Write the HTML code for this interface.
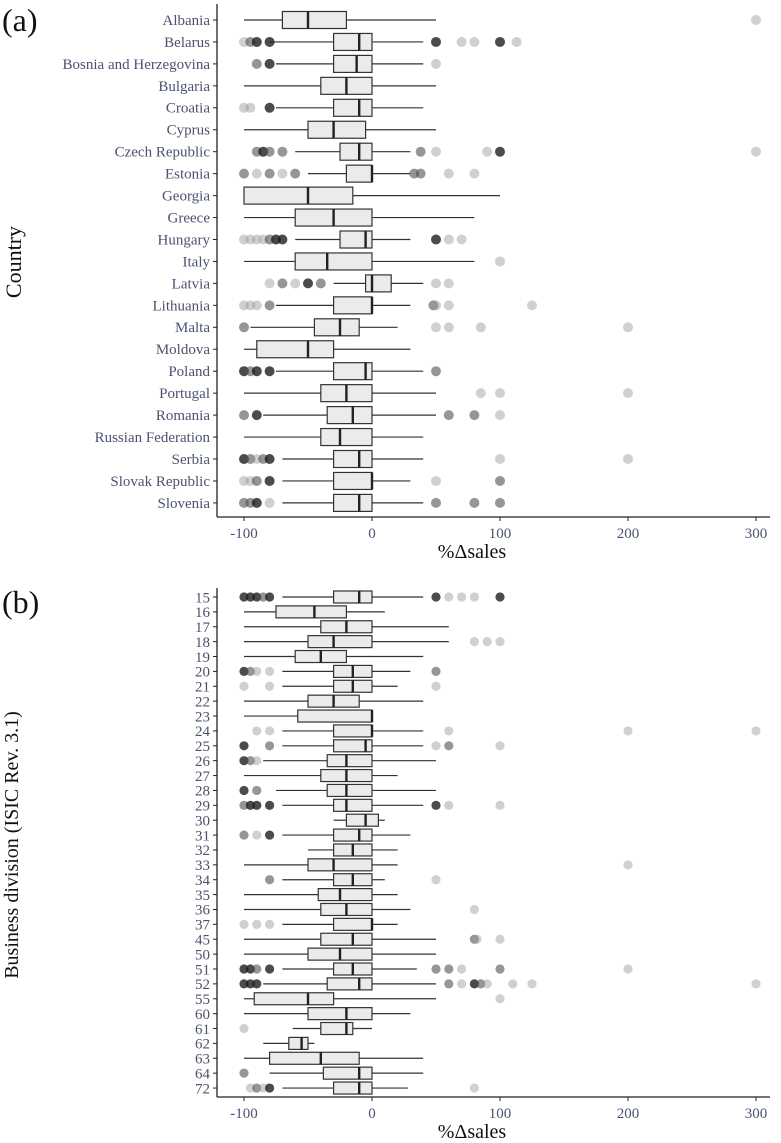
<!DOCTYPE html>
<html><head><meta charset="utf-8"><style>
html,body{margin:0;padding:0;background:#fff;}
svg{display:block;font-family:"Liberation Serif",serif;}
.lbl{fill:#4b5270;font-size:15px;}
</style></head><body>
<svg id="chart" width="781" height="1143" viewBox="0 0 781 1143">
<text x="2" y="31" font-size="32" fill="#111">(a)</text>
<text x="2" y="613" font-size="32" fill="#111">(b)</text>
<text transform="translate(21,262) rotate(-90)" text-anchor="middle" font-size="22" fill="#111">Country</text>
<text transform="translate(18,845) rotate(-90)" text-anchor="middle" font-size="20" fill="#111">Business division (ISIC Rev. 3.1)</text>
<g id="pa"></g>
<g id="pb"></g>
</svg>
<script>
const ticks=[-100,0,100,200,300];
const tickLabels=["-100","0","100","200","300"];
const aNames=["Albania","Belarus","Bosnia and Herzegovina","Bulgaria","Croatia","Cyprus","Czech Republic","Estonia","Georgia","Greece","Hungary","Italy","Latvia","Lithuania","Malta","Moldova","Poland","Portugal","Romania","Russian Federation","Serbia","Slovak Republic","Slovenia"];
const aLo=[-100,-80,-75,-100,-75,-100,-60,-50,-100,-100,-60,-100,-30,-75,-95,-100,-75,-100,-85,-100,-70,-70,-70];
const aQ1=[-70,-30,-30,-40,-30,-50,-25,-20,-100,-60,-25,-60,-5,-30,-45,-90,-30,-40,-35,-40,-30,-30,-30];
const aMed=[-50,-10,-12,-20,-10,-30,-10,0,-50,-30,-5,-35,0,0,-25,-50,-5,-20,-15,-25,-10,0,-10];
const aQ3=[-20,0,0,0,0,-5,0,0,-15,0,0,0,15,0,-10,-30,0,0,0,0,0,0,0];
const aHi=[50,40,40,50,40,50,30,30,100,80,30,80,40,30,20,30,40,50,50,40,40,30,40];
const aOut=[[300],[-100,-95,-90,-80,50,70,80,100,113],[-90,-80,50],[],[-100,-95,-80],[],[-90,-85,-80,-70,38,50,90,100,300],[-100,-90,-80,-70,-60,33,38,60,80],[],[],[-100,-95,-90,-85,-80,-75,-70,50,60,70],[100],[-80,-70,-60,-50,-40,50,60],[-100,-95,-90,-80,48,50,60,125],[-100,50,60,85,200],[],[-100,-95,-90,-80,50],[85,100,200],[-100,-90,60,80,100],[],[-100,-95,-90,-85,-80,100,200],[-100,-95,-90,-80,50,100],[-100,-95,-90,-80,50,80,100]];
const aShade=[[0],[0,1,2,2,2,0,0,2,0],[1,2,0],[],[0,0,2],[],[1,2,1,1,1,0,0,2,0],[1,0,1,0,1,1,1,0,0],[],[],[0,0,0,0,1,2,2,2,0,0],[0],[0,1,0,2,1,0,0],[0,0,0,1,1,0,0,0],[1,0,0,0,0],[],[2,1,2,2,1],[0,0,0],[1,2,1,1,0],[],[2,1,0,1,2,0,0],[0,0,1,2,0,1],[1,1,2,0,1,1,1]];

const bNames=["15","16","17","18","19","20","21","22","23","24","25","26","27","28","29","30","31","32","33","34","35","36","37","45","50","51","52","55","60","61","62","63","64","72"];
const bLo=[-70,-100,-100,-100,-100,-70,-70,-100,-100,-70,-70,-85,-100,-75,-70,-30,-70,-50,-100,-70,-100,-100,-70,-100,-100,-70,-85,-100,-100,-62,-85,-100,-80,-70];
const bQ1=[-30,-75,-40,-50,-60,-30,-30,-50,-58,-30,-30,-35,-40,-35,-30,-20,-30,-30,-50,-30,-42,-40,-30,-40,-50,-30,-35,-92,-50,-40,-65,-80,-38,-30];
const bMed=[-10,-45,-20,-30,-40,-15,-15,-30,0,0,-5,-20,-20,-20,-20,-5,-10,-15,-30,-15,-25,-20,0,-15,-25,-15,-10,-50,-20,-20,-55,-40,-10,-10];
const bQ3=[0,-20,0,0,-20,0,0,-10,0,0,0,0,0,0,0,5,0,0,0,0,0,0,0,0,0,0,0,-30,0,-15,-50,-10,0,0];
const bHi=[40,10,60,60,40,30,20,40,0,40,40,50,20,50,40,10,30,20,20,10,20,30,20,50,50,35,50,50,30,0,-45,40,40,28];
const bOut=[[-100,-95,-90,-85,-80,50,60,70,80,100],[],[],[80,90,100],[],[-100,-95,-90,-80,50],[-100,-80,50],[],[],[-90,-80,60,200,300],[-100,-80,50,60,100],[-100,-95,-90],[],[-100,-90],[-100,-95,-90,-80,50,60,100],[],[-100,-90,-80],[],[200],[-80,50],[],[80],[-100,-90,-80],[80,82,100],[],[-100,-95,-90,-80,50,60,70,100,200],[-100,-95,-90,60,70,80,85,90,110,125,300],[100],[],[-100],[],[],[-100],[-95,-90,-85,-80,80]];
const bShade=[[2,2,2,1,2,2,0,0,0,2],[],[],[0,0,0],[],[2,1,0,0,1],[0,0,0],[],[],[0,0,0,0,0],[2,1,0,1,0],[2,1,0],[],[2,1],[1,2,2,2,2,0,0],[],[1,0,2],[],[0],[1,0],[],[0],[0,0,0],[1,0,0],[],[2,2,1,2,1,1,0,1,0],[2,2,2,1,0,2,1,0,0,0,0],[0],[],[0],[],[],[1],[0,1,0,2,0]];

const NS="http://www.w3.org/2000/svg";
const shadeCol=["rgba(150,150,150,0.45)","rgba(80,80,80,0.6)","rgba(30,30,30,0.8)"];
function X(v){return 372+1.28*v;}
function mk(p,t,a){const e=document.createElementNS(NS,t);for(const k in a)e.setAttribute(k,a[k]);p.appendChild(e);return e;}

function panel(g,names,lo,q1,med,q3,hi,outs,shades,y0,dy,bh,top,axisY,fs,pref){
  mk(g,'line',{x1:217,y1:top,x2:217,y2:axisY,stroke:'#222','stroke-width':1.3});
  mk(g,'line',{x1:217,y1:axisY,x2:770,y2:axisY,stroke:'#222','stroke-width':1.3});
  ticks.forEach((t,i)=>{
    const tk=mk(g,'line',{x1:X(t),y1:axisY,x2:X(t),y2:axisY+4,stroke:'#222'});
    
    
    const tl=mk(g,'text',{x:X(t),y:axisY+21,'text-anchor':'middle','class':'lbl'});
    tl.textContent=tickLabels[i];
    
    
  });
  const tt=mk(g,'text',{x:X(0)+100,y:axisY+41,'text-anchor':'middle','font-size':20,fill:'#111'});
  tt.textContent='%Δsales';
  
  
  names.forEach((n,i)=>{
    const y=y0+i*dy;
    mk(g,'line',{x1:213,y1:y,x2:217,y2:y,stroke:'#222'});
    const l=mk(g,'text',{x:210,y:y+fs*0.35,'text-anchor':'end','class':'lbl','font-size':fs});
    l.textContent=n;
    
    
    const bx=mk(g,'g',{});
    
    
    mk(bx,'line',{x1:X(lo[i]),y1:y,x2:X(q1[i]),y2:y,stroke:'#333','stroke-width':1.2});
    mk(bx,'line',{x1:X(q3[i]),y1:y,x2:X(hi[i]),y2:y,stroke:'#333','stroke-width':1.2});
    mk(bx,'rect',{x:X(q1[i]),y:y-bh/2,width:Math.max(0,X(q3[i])-X(q1[i])),height:bh,fill:'#ebebeb',stroke:'#333','stroke-width':1.2});
    mk(bx,'line',{x1:X(med[i]),y1:y-bh/2,x2:X(med[i]),y2:y+bh/2,stroke:'#222','stroke-width':2.4});
    outs[i].forEach((v,j)=>{
      const c=mk(bx,'circle',{cx:X(v),cy:y,r:pref==='a'?5:4.6,fill:shadeCol[shades[i][j]]});
      
      
    });
  });
}
panel(document.getElementById('pa'),aNames,aLo,aQ1,aMed,aQ3,aHi,aOut,aShade,20,21.95,17,4,517,14,'a');
panel(document.getElementById('pb'),bNames,bLo,bQ1,bMed,bQ3,bHi,bOut,bShade,597,14.88,12,588,1097,15,'b');
</script>
</body></html>
